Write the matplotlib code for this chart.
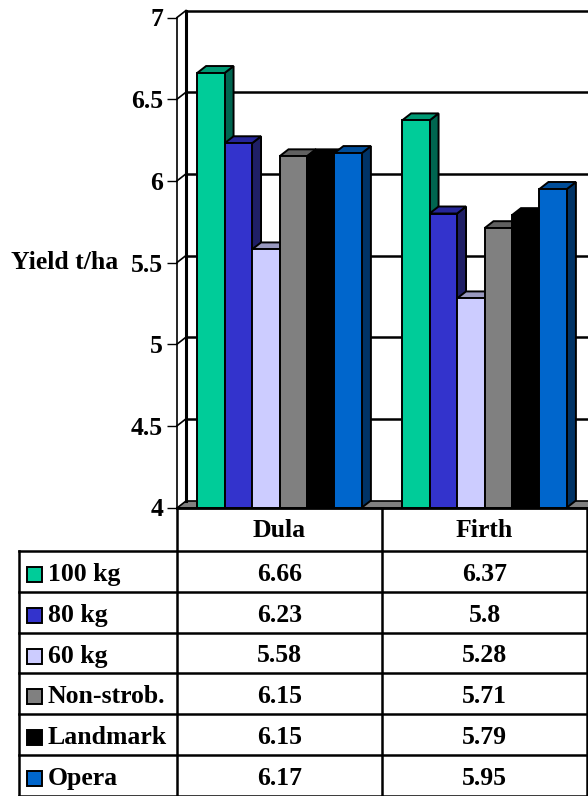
import numpy as np
import matplotlib.pyplot as plt
from matplotlib.patches import Polygon, Rectangle

# Yield by variety for each fungicide / rate treatment
varieties = ['Dula', 'Firth']
treatments = ['100 kg', '80 kg', '60 kg', 'Non-strob.', 'Landmark', 'Opera']
yield_100 = [6.66, 6.37]
yield_80 = [6.23, 5.8]
yield_60 = [5.58, 5.28]
yield_nonstrob = [6.15, 5.71]
yield_landmark = [6.15, 5.79]
yield_opera = [6.17, 5.95]
series = [yield_100, yield_80, yield_60, yield_nonstrob, yield_landmark, yield_opera]

# front / top / side face colours of the 3D bars
front_colors = ['#00cc99', '#3333cc', '#ccccff', '#808080', '#000000', '#0066cc']
top_colors = ['#009973', '#262699', '#9999bf', '#606060', '#000000', '#004d99']
side_colors = ['#006650', '#1f1f66', '#66667f', '#404040', '#000000', '#003366']

plt.rcParams['font.family'] = ['Liberation Serif', 'DejaVu Serif']
plt.rcParams['font.weight'] = 'bold'
FS = 18.5

W, H = 588, 796
fig = plt.figure(figsize=(W / 100, H / 100), dpi=100)

# plot area in pixels
x0, x1 = 177, 587
ytop, ybot = 17.5, 507.5
ax = fig.add_axes([x0 / W, 1 - ybot / H, (x1 - x0) / W, (ybot - ytop) / H])
ax.set_xlim(0, 2)
ax.set_ylim(4, 7)

px_x = 2 / (x1 - x0)
px_y = 3 / (ybot - ytop)
dx, dy = 9 * px_x, 7 * px_y   # depth of the 3D wall / bars

ticks = np.arange(4, 7.01, 0.5)

# floor
ax.add_patch(Polygon([(0, 4), (2 + dx, 4), (2 + dx, 4 + dy), (dx, 4 + dy)],
                     closed=True, fc='#808080', ec='black', lw=1.2,
                     clip_on=False, zorder=1))

# back wall gridlines and side wall
for t in ticks[1:]:
    ax.plot([dx, 2 + dx], [t + dy, t + dy], color='black', lw=1.8,
            clip_on=False, zorder=1)
    ax.plot([0, dx], [t, t + dy], color='black', lw=1.2, clip_on=False, zorder=1)
ax.plot([dx, dx], [4 + dy, 7 + dy], color='black', lw=2.2, clip_on=False, zorder=1)

# bars
bw = 0.134
gap = (1 - len(series) * bw) / 2
z = 3
for i in range(len(varieties)):
    for j, vals in enumerate(series):
        v = vals[i]
        left = i + gap + j * bw
        right = left + bw
        ax.add_patch(Polygon([(right, 4), (right + dx, 4 + dy), (right + dx, v + dy), (right, v)],
                             closed=True, fc=side_colors[j], ec='black', lw=1.4,
                             clip_on=False, zorder=z))
        ax.add_patch(Polygon([(left, v), (right, v), (right + dx, v + dy), (left + dx, v + dy)],
                             closed=True, fc=top_colors[j], ec='black', lw=1.4,
                             clip_on=False, zorder=z))
        ax.add_patch(Rectangle((left, 4), bw, v - 4, fc=front_colors[j], ec='black',
                               lw=1.4, clip_on=False, zorder=z))
        z += 1

for s in ['top', 'right']:
    ax.spines[s].set_visible(False)
ax.spines['left'].set_linewidth(1.2)
ax.spines['bottom'].set_linewidth(2.0)
ax.spines['bottom'].set_zorder(50)
ax.set_xticks([])
ax.set_yticks(ticks)
ax.set_yticklabels([f'{t:g}' for t in ticks], fontsize=FS, fontweight='bold')
ax.tick_params(axis='y', length=7, width=1.0, pad=3)
ax.set_ylabel('Yield t/ha', rotation=0, fontsize=FS, fontweight='bold',
              ha='right', va='center')
ax.yaxis.set_label_coords((118 - x0) / (x1 - x0), 0.5)
ax.patch.set_visible(False)

# data table below the plot
tax = fig.add_axes([x0 / W, 0, (x1 - x0) / W, (H - ybot) / H])
tax.set_xlim(0, 2)
tax.set_ylim(H - ybot, 0)
tax.axis('off')

header_h = 43.5
row_h = 40.8
left_edge = (19 - x0) * px_x
lc = dict(color='black', lw=1.8, clip_on=False)

for xv in range(len(varieties) + 1):
    tax.plot([xv, xv], [0, H - ybot], **lc)
tax.plot([left_edge, left_edge], [header_h, H - ybot], **lc)
for k in range(len(treatments) + 1):
    yy = header_h + k * row_h
    tax.plot([left_edge, 2], [yy, yy], **lc)

for i, name in enumerate(varieties):
    tax.text(i + 0.5, header_h / 2 + 1.5, name, ha='center', va='center',
             fontsize=FS, fontweight='bold')

for j, name in enumerate(treatments):
    yc = header_h + (j + 0.5) * row_h + 3
    tax.add_patch(Rectangle(((27 - x0) * px_x, yc - 7.5), 15 * px_x, 15,
                            fc=front_colors[j], ec='black', lw=1.4, clip_on=False))
    tax.text((48 - x0) * px_x, yc, name, ha='left', va='center',
             fontsize=FS, fontweight='bold')
    for i in range(len(varieties)):
        tax.text(i + 0.5, yc, f'{series[j][i]:g}', ha='center', va='center',
                 fontsize=FS, fontweight='bold')

fig.savefig('out.png', dpi=100)
